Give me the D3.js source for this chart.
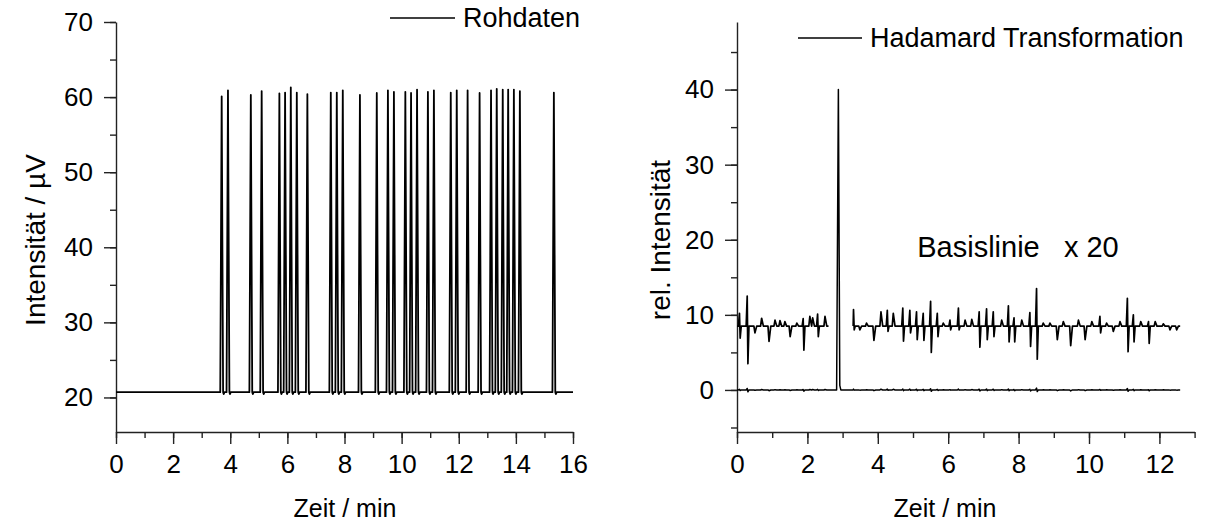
<!DOCTYPE html>
<html>
<head>
<meta charset="utf-8">
<script src="https://cdn.jsdelivr.net/npm/d3@7"></script>
<style>
  body { margin: 0; background: #fff; }
  svg text { font-family: "Liberation Sans", Arial, sans-serif; fill: #000; }
  .axis path, .axis line { stroke: #222; stroke-width: 1.4; }
  .axis text { font-size: 26px; }
  .trace { fill: none; stroke: #000; stroke-width: 1.5; stroke-linejoin: round; }
</style>
</head>
<body>
<svg id="chart"></svg>
<script>
// left panel: raw detector signal
var RAW_BASELINE = 20.7;
var RAW_TIME_RANGE = [0, 16];
var RAW_PEAK_TIMES = [3.70, 3.92, 4.72, 5.10, 5.72, 5.92, 6.12, 6.33, 6.70, 7.52, 7.73, 7.94, 8.54, 9.13, 9.52, 9.73,
    10.13, 10.33, 10.54, 10.92, 11.13, 11.72, 11.93, 12.31, 12.73, 13.13, 13.33, 13.54, 13.73, 13.93, 14.14, 15.33];
var RAW_PEAK_HEIGHTS = [60.1, 60.9, 60.3, 60.8, 60.5, 60.6, 61.3, 60.6, 60.4, 60.6, 60.6, 60.9, 60.3, 60.55, 60.9, 60.7,
    60.7, 60.55, 61.0, 60.7, 60.9, 60.6, 60.9, 60.9, 60.55, 60.9, 61.1, 61.0, 61.0, 61.0, 60.8, 60.6];

// right panel: transformed signal, one big peak
var HT_TIME_RANGE = [0, 12.59];
var HT_PEAK_TIME = 2.88;
var HT_PEAK_HEIGHT = 40;

// right panel: baseline x 20, shifted up; spikes as time / upper / lower extreme
var NOISE_BASE = 8.5;
var NOISE_SEGMENTS = [[0, 2.6], [3.30, 12.59]];
var NOISE_TIMES = [0.07, 0.29, 0.51, 0.70, 0.91, 1.08, 1.22, 1.36, 1.51, 1.70, 1.88, 2.07, 2.15, 2.29, 2.50,
    3.31, 3.49, 3.68, 3.89, 4.09, 4.27, 4.44, 4.71, 4.91, 5.10, 5.29, 5.50, 5.69, 5.86, 6.05, 6.29, 6.48, 6.67,
    6.88, 7.09, 7.28, 7.52, 7.71, 7.87, 8.09, 8.32, 8.51, 8.70, 8.89, 9.10, 9.27, 9.48, 9.70, 9.89, 10.08,
    10.31, 10.50, 10.69, 10.88, 11.09, 11.26, 11.47, 11.69, 11.88, 12.11, 12.30, 12.49];
var NOISE_UP = [10.2, 12.5, null, 9.55, null, 9.3, 9.24, 9.1, null, 8.9, 9.5, 9.8, 9.6, 10.1, 9.8,
    10.7, null, 8.9, null, 10.4, 10.6, 10.2, 10.9, 10.6, 10.4, 10.2, 11.8, 10.2, 8.9, 9.3, 10.9, 9.3, 9.4,
    10.4, 10.8, 10.4, 9.3, 11.2, 9.6, 9.3, 10.3, 13.5, 8.9, 8.9, null, 9.1, null, 9.3, null, 9.1,
    9.8, 8.9, null, 9.1, 12.2, 10.0, 9.1, 9.1, 9.1, 8.8, null, null];
var NOISE_DOWN = [6.9, 3.5, 7.6, null, 6.45, null, null, null, 7.1, null, 5.3, null, null, 7.1, null,
    8.0, 8.0, null, 6.6, null, 7.8, null, 6.5, 7.6, 6.7, 6.6, 5.0, 7.1, null, 8.0, 8.0, null, null,
    5.7, 6.7, 7.1, null, 6.4, 6.4, null, 5.8, 4.1, null, null, 6.7, null, 5.9, null, 6.7, null,
    7.6, null, 7.8, null, 5.1, 6.4, null, 6.2, null, null, 8.0, 8.0];
var NOISE_SCALE = 20;

var LEFT_X_TICKS = [0, 2, 4, 6, 8, 10, 12, 14, 16];
var LEFT_Y_TICKS = [20, 30, 40, 50, 60, 70];
var RIGHT_X_TICKS = [0, 2, 4, 6, 8, 10, 12];
var RIGHT_Y_TICKS = [0, 10, 20, 30, 40];

(function () {
    var WIDTH = 1219, HEIGHT = 521;
    var AXIS_BOTTOM = 432, AXIS_TOP = 22;
    var MAJOR = 12, MINOR = 6;

    var svg = d3.select("#chart").attr("width", WIDTH).attr("height", HEIGHT);

    function range(a, b, step) { return d3.range(a, b + step / 2, step); }

    function drawAxes(g, x, y, xMajor, xMinor, yMajor, yMinor) {
        g.append("g").attr("class", "axis")
            .attr("transform", "translate(0," + AXIS_BOTTOM + ")")
            .call(d3.axisBottom(x).tickValues(xMinor).tickSize(MINOR).tickSizeOuter(0).tickFormat(""))
            .call(function (s) { s.select(".domain").remove(); });
        g.append("g").attr("class", "axis")
            .attr("transform", "translate(0," + AXIS_BOTTOM + ")")
            .call(d3.axisBottom(x).tickValues(xMajor).tickSize(MAJOR).tickSizeOuter(0).tickPadding(11));
        var x0 = x.range()[0];
        g.append("g").attr("class", "axis")
            .attr("transform", "translate(" + x0 + ",0)")
            .call(d3.axisLeft(y).tickValues(yMinor).tickSize(MINOR).tickSizeOuter(0).tickFormat(""))
            .call(function (s) { s.select(".domain").remove(); });
        g.append("g").attr("class", "axis")
            .attr("transform", "translate(" + x0 + ",0)")
            .call(d3.axisLeft(y).tickValues(yMajor).tickSize(MAJOR).tickSizeOuter(0).tickPadding(11));
    }

    function legend(g, x1, x2, y, label) {
        g.append("line").attr("x1", x1).attr("x2", x2).attr("y1", y).attr("y2", y)
            .attr("stroke", "#000").attr("stroke-width", 1.3);
        g.append("text").attr("x", x2 + 8).attr("y", y).attr("dy", "0.35em")
            .style("font-size", "27px").text(label);
    }

    function titles(g, cx, label, ytx, ylabel) {
        g.append("text").attr("x", cx).attr("y", 517).attr("text-anchor", "middle")
            .style("font-size", "25px").text(label);
        g.append("text").attr("transform", "translate(" + ytx + ",240) rotate(-90)")
            .attr("text-anchor", "middle").attr("dy", "0.35em")
            .style("font-size", "28px").text(ylabel);
    }

    // ---- left panel
    var xL = d3.scaleLinear().domain([0, 16]).range([116, 573]);
    var yL = d3.scaleLinear().domain([15.4, 70]).range([AXIS_BOTTOM, AXIS_TOP]);
    var left = svg.append("g");
    drawAxes(left, xL, yL, LEFT_X_TICKS, range(0, 16, 1), LEFT_Y_TICKS, range(20, 70, 5));

    var raw = [[RAW_TIME_RANGE[0], RAW_BASELINE]];
    RAW_PEAK_TIMES.forEach(function (t, i) {
        raw.push([t - 0.05, RAW_BASELINE], [t, RAW_PEAK_HEIGHTS[i]], [t + 0.05, RAW_BASELINE],
            [t + 0.07, RAW_BASELINE - 0.25], [t + 0.1, RAW_BASELINE]);
    });
    raw.push([RAW_TIME_RANGE[1], RAW_BASELINE]);
    var lineL = d3.line().x(function (d) { return xL(d[0]); }).y(function (d) { return yL(d[1]); });
    left.append("path").attr("class", "trace").style("stroke-width", 1.8).attr("d", lineL(raw));

    legend(left, 390, 455, 18, "Rohdaten");
    titles(left, 345, "Zeit / min", 35, "Intensität / µV");

    // ---- right panel
    var xR = d3.scaleLinear().domain([0, 13]).range([737, 737 + 13 * 35.2]);
    var yR = d3.scaleLinear().domain([-5.6, 49]).range([AXIS_BOTTOM, AXIS_TOP]);
    var right = svg.append("g");
    drawAxes(right, xR, yR, RIGHT_X_TICKS, range(0, 13, 1), RIGHT_Y_TICKS, range(-5, 45, 5));

    var lineR = d3.line().x(function (d) { return xR(d[0]); }).y(function (d) { return yR(d[1]); });

    function spikes(seg, base, scale) {
        var pts = [[seg[0], base]];
        NOISE_TIMES.forEach(function (t, i) {
            if (t < seg[0] || t > seg[1]) return;
            var up = NOISE_UP[i], dn = NOISE_DOWN[i];
            if (t - 0.03 > seg[0]) pts.push([t - 0.03, base]);
            if (up !== null) pts.push([t, base + (up - NOISE_BASE) * scale]);
            if (dn !== null) pts.push([t + (up !== null ? 0.02 : 0), base + (dn - NOISE_BASE) * scale]);
            pts.push([t + 0.05, base]);
        });
        pts.push([seg[1], base]);
        return pts;
    }

    // transformed trace at zero, its noise is the x20 baseline scaled back down
    var ht = [];
    NOISE_SEGMENTS.forEach(function (seg, k) {
        ht = ht.concat(spikes(seg, 0, 1 / NOISE_SCALE));
        if (k === 0) {
            ht.push([HT_PEAK_TIME - 0.05, 0], [HT_PEAK_TIME, HT_PEAK_HEIGHT], [HT_PEAK_TIME + 0.04, 0.6],
                [HT_PEAK_TIME + 0.07, 0]);
        }
    });
    ht.unshift([HT_TIME_RANGE[0], 0]);
    right.append("path").attr("class", "trace").attr("d", lineR(ht));

    NOISE_SEGMENTS.forEach(function (seg) {
        right.append("path").attr("class", "trace").style("stroke-width", 1.7)
            .attr("d", lineR(spikes(seg, NOISE_BASE, 1)));
    });

    right.append("text").attr("x", xR(5.12)).attr("y", yR(19.1)).attr("dy", "0.35em")
        .attr("xml:space", "preserve").style("white-space", "pre")
        .style("font-size", "29px").text("Basislinie   x 20");

    legend(right, 798, 862, 38, "Hadamard Transformation");
    titles(right, 945, "Zeit / min", 660, "rel. Intensität");
}());
</script>
</body>
</html>
